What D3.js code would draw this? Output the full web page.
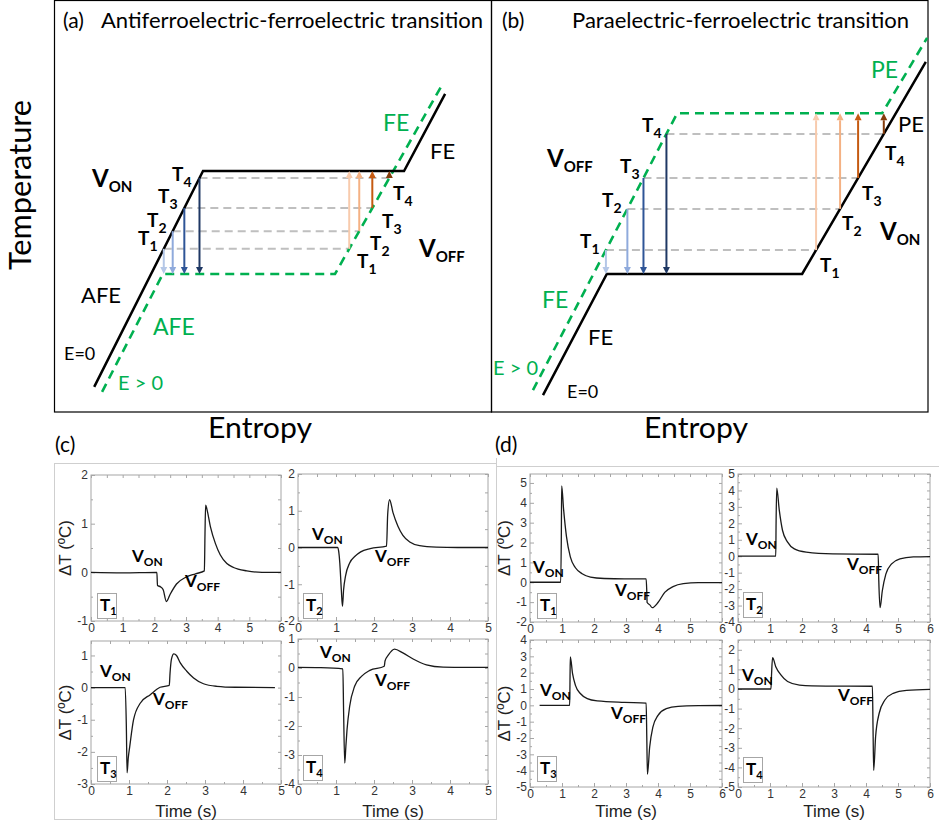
<!DOCTYPE html>
<html>
<head>
<meta charset="utf-8">
<script src="https://cdn.jsdelivr.net/npm/d3@7"></script>
<style>
  body { margin: 0; background: #fff; }
  svg { display: block; }
</style>
</head>
<body>
<svg id="fig" width="939" height="823"></svg>
<script>
// ---------- schematic (a), (b): entropy / temperature in arbitrary units (0-10) ----------
const afeBlack = [[0.92, 0.61], [3.41, 5.85], [8.01, 5.85], [8.95, 7.72]];
const afeGreen = [[1.10, 0.49], [2.49, 3.35], [6.43, 3.35], [8.88, 7.94]];
const afeLevels = [3.96, 4.39, 4.95, 5.68];   // T1..T4
const peBlack = [[1.19, 0.41], [2.65, 3.35], [7.12, 3.35], [9.95, 8.50]];
const peGreen = [[0.96, 0.53], [4.26, 7.25], [8.95, 7.25], [9.98, 9.08]];
const peLevels = [3.93, 4.93, 5.68, 6.75];
const levelNames = ["1", "2", "3", "4"];
const blueShades = ["#b4c7e7", "#8faadc", "#2f5597", "#1f3864"];
const orangeShades = ["#f8cbad", "#f4b183", "#c55a11", "#843c0c"];

// ---------- measured ΔT (°C) vs time (s) ----------
const cT1 = [[0,0],[1,-0.01],[2.08,0],[2.10,-0.27],[2.2,-0.3],[2.28,-0.36],[2.38,-0.6],[2.5,-0.45],[2.7,-0.24],[3.0,-0.1],[3.3,-0.03],[3.58,0.03],[3.60,0.8],[3.62,1.38],[3.66,1.3],[3.77,0.94],[3.93,0.59],[4.08,0.36],[4.29,0.18],[4.5,0.1],[4.92,0.03],[5.4,0],[6,0]];
const cT2 = [[0,0],[1.04,0],[1.07,-0.1],[1.10,-0.42],[1.14,-1.15],[1.17,-1.6],[1.20,-1.15],[1.25,-0.78],[1.36,-0.42],[1.5,-0.24],[1.65,-0.12],[1.9,-0.03],[2.33,0.04],[2.36,0.9],[2.41,1.3],[2.5,0.95],[2.63,0.58],[2.76,0.33],[2.94,0.15],[3.2,0.05],[3.64,0.01],[4.2,0],[5,0]];
const cT3 = [[0,0],[0.5,0],[0.90,0],[0.93,-1.2],[0.95,-2.65],[0.98,-2.2],[1.02,-1.83],[1.12,-1.0],[1.30,-0.48],[1.56,-0.22],[1.82,0.01],[2.06,0.07],[2.08,0.45],[2.12,0.9],[2.18,1.05],[2.25,1.0],[2.35,0.77],[2.52,0.51],[2.70,0.30],[2.96,0.12],[3.31,0.04],[3.8,0.01],[4.84,0]];
const cT4 = [[0,0.02],[0.6,0.01],[1.18,-0.03],[1.20,-1.5],[1.23,-3.28],[1.26,-2.7],[1.29,-2.13],[1.36,-1.32],[1.49,-0.63],[1.67,-0.29],[1.89,-0.08],[2.27,0.06],[2.29,0.24],[2.38,0.45],[2.54,0.65],[2.76,0.52],[3.03,0.31],[3.38,0.11],[3.82,0.03],[4.4,0.02],[5,0.02]];
const dT1 = [[0,0],[0.5,0],[0.96,0],[0.98,2.5],[0.99,4.85],[1.05,3.67],[1.14,2.3],[1.26,1.28],[1.42,0.73],[1.63,0.43],[1.89,0.26],[2.32,0.19],[2.95,0.17],[3.63,0.17],[3.65,-0.5],[3.66,-1.02],[3.75,-1.15],[3.82,-1.28],[4.0,-1.02],[4.21,-0.51],[4.47,-0.22],[4.79,-0.07],[5.26,-0.02],[6,-0.02]];
const dT2 = [[0,0],[0.6,0],[1.18,0],[1.19,2.0],[1.21,4.14],[1.29,2.8],[1.39,1.58],[1.55,0.86],[1.76,0.45],[2.13,0.25],[2.96,0.14],[4.38,0.12],[4.40,-1.5],[4.44,-3.13],[4.51,-2.1],[4.62,-1.09],[4.80,-0.47],[5.06,-0.16],[5.48,-0.04],[6,-0.02]];
const dT3 = [[0.3,0],[0.8,0],[1.24,0],[1.25,1.5],[1.26,2.96],[1.33,1.94],[1.42,1.22],[1.58,0.71],[1.79,0.41],[2.1,0.27],[2.95,0.18],[3.63,0.14],[3.65,-2.0],[3.67,-4.22],[3.74,-2.55],[3.84,-1.33],[4.0,-0.61],[4.26,-0.2],[4.63,-0.06],[5.26,-0.02],[6,-0.01]];
const dT4 = [[0,0],[0.5,0],[1.03,0],[1.05,0.8],[1.08,1.6],[1.18,1.14],[1.34,0.72],[1.55,0.38],[1.92,0.2],[2.75,0.15],[4.2,0.14],[4.22,-2.0],[4.24,-4.15],[4.30,-2.44],[4.41,-1.25],[4.59,-0.56],[4.85,-0.22],[5.27,-0.07],[6,-0.02]];

// axis ranges (time, ΔT) for each small plot
const cT1Dom = [[0, 6], [-1, 2]];
const cT2Dom = [[0, 5], [-2, 2]];
const cT3Dom = [[0, 5], [-3, 1.45]];
const cT4Dom = [[0, 5], [-4, 1]];
const dT1Dom = [[0, 6], [-2, 5.45]];
const dT2Dom = [[0, 6], [-4, 5]];
const dT3Dom = [[0, 6], [-5, 4]];
const dT4Dom = [[0, 6], [-5, 2.5]];

const svg = d3.select("#fig");
const LATO = "Lato, 'Open Sans', sans-serif";
const ARIAL = "'Liberation Sans', Arial, sans-serif";

// text with optional subscript
function subText(g, x, y, main, sub, o) {
  const t = g.append("text")
    .attr("x", x).attr("y", y)
    .attr("font-family", o.family || LATO)
    .attr("font-weight", o.bold ? 700 : 400)
    .attr("font-size", o.size)
    .attr("fill", o.fill || "#000");
  t.append("tspan").text(main);
  if (sub) t.append("tspan").attr("font-size", o.subSize).attr("dy", o.subDy).text(sub);
  return t;
}

// S on segment p0-p1 at temperature T
function sAt(p0, p1, T) {
  return p0[0] + (T - p0[1]) / (p1[1] - p0[1]) * (p1[0] - p0[0]);
}

function arrow(g, x, yFrom, yTo, color) {
  const dir = yTo > yFrom ? 1 : -1;
  const head = 7, half = 3.5;
  const baseY = yTo - dir * head;
  if (Math.abs(yTo - yFrom) > head) {
    g.append("line").attr("x1", x).attr("x2", x).attr("y1", yFrom).attr("y2", baseY)
      .attr("stroke", color).attr("stroke-width", 2);
  }
  g.append("path")
    .attr("d", `M${x - half},${baseY}L${x + half},${baseY}L${x},${yTo}Z`)
    .attr("fill", color);
}

// ---------- schematic panels ----------
function schematic(left, cfg) {
  const xs = d3.scaleLinear().domain([0, 10]).range([left, left + 437]);
  const ys = d3.scaleLinear().domain([0, 10]).range([412, 0]);
  const g = svg.append("g");
  const line = d3.line().x(d => xs(d[0])).y(d => ys(d[1]));

  const lp = cfg.levels.map(T => [sAt(cfg.leftLine[0], cfg.leftLine[1], T), T]);
  const rp = cfg.levels.map(T => [sAt(cfg.rightLine[2], cfg.rightLine[3], T), T]);

  // gray guide lines
  cfg.levels.forEach((T, i) => {
    g.append("line")
      .attr("x1", xs(lp[i][0])).attr("x2", xs(rp[i][0]))
      .attr("y1", ys(T)).attr("y2", ys(T))
      .attr("stroke", "#bfbfbf").attr("stroke-width", 2).attr("stroke-dasharray", "8,5");
  });

  g.append("path").attr("d", line(cfg.green)).attr("fill", "none")
    .attr("stroke", "#00b050").attr("stroke-width", 2.6).attr("stroke-dasharray", "9,6");
  g.append("path").attr("d", line(cfg.black)).attr("fill", "none")
    .attr("stroke", "#000").attr("stroke-width", 2.5);

  cfg.levels.forEach((T, i) => {
    arrow(g, xs(lp[i][0]), ys(T), ys(cfg.blueTo), blueShades[i]);
    arrow(g, xs(rp[i][0]), ys(T), ys(cfg.orangeTo), orangeShades[i]);
  });
  return g;
}

// frames
svg.append("rect").attr("x", 54.5).attr("y", 0.5).attr("width", 437).attr("height", 411.5)
  .attr("fill", "none").attr("stroke", "#000").attr("stroke-width", 1.2);
svg.append("rect").attr("x", 491.5).attr("y", 0.5).attr("width", 436.5).attr("height", 411.5)
  .attr("fill", "none").attr("stroke", "#000").attr("stroke-width", 1.2);

schematic(54, {
  black: afeBlack, green: afeGreen, levels: afeLevels,
  leftLine: afeBlack, rightLine: afeGreen,
  blueTo: afeGreen[1][1], orangeTo: afeBlack[1][1]
});
schematic(491, {
  black: peBlack, green: peGreen, levels: peLevels,
  leftLine: peGreen, rightLine: peBlack,
  blueTo: peBlack[1][1], orangeTo: peGreen[1][1]
});

// titles
svg.append("text").attr("x", 63).attr("y", 28).attr("font-family", LATO).attr("font-size", 21).text("(a)");
svg.append("text").attr("x", 101).attr("y", 28).attr("font-family", LATO).attr("font-size", 21)
  .attr("textLength", 382).attr("lengthAdjust", "spacingAndGlyphs")
  .text("Antiferroelectric-ferroelectric transition");
svg.append("text").attr("x", 502).attr("y", 28).attr("font-family", LATO).attr("font-size", 21).text("(b)");
svg.append("text").attr("x", 572).attr("y", 28).attr("font-family", LATO).attr("font-size", 21)
  .attr("textLength", 337).attr("lengthAdjust", "spacingAndGlyphs")
  .text("Paraelectric-ferroelectric transition");

svg.append("text").attr("transform", "translate(31,185) rotate(-90)").attr("text-anchor", "middle")
  .attr("font-family", LATO).attr("font-size", 30)
  .attr("textLength", 170).attr("lengthAdjust", "spacingAndGlyphs").text("Temperature");
[260, 696].forEach(cx => {
  svg.append("text").attr("x", cx).attr("y", 438).attr("text-anchor", "middle")
    .attr("font-family", LATO).attr("font-size", 29)
    .attr("textLength", 104).attr("lengthAdjust", "spacingAndGlyphs").text("Entropy");
});

// schematic annotations
const GREEN = "#00b050";
const bigV = { bold: true, size: 24, subSize: 15, subDy: 5 };
const tLab = { bold: true, size: 19, subSize: 14, subDy: 6 };
// (a)
subText(svg, 92, 187, "V", "ON", bigV);
subText(svg, 419, 257, "V", "OFF", bigV);
[[138, 245], [147, 227], [158, 203], [172, 181]].forEach((p, i) => subText(svg, p[0], p[1], "T", levelNames[i], tLab));
[[357, 268], [370, 250], [382, 228], [393, 200]].forEach((p, i) => subText(svg, p[0], p[1], "T", levelNames[i], tLab));
subText(svg, 81, 303, "AFE", null, { size: 22 });
subText(svg, 64, 360, "E=0", null, { size: 18 });
subText(svg, 153, 335, "AFE", null, { size: 23, fill: GREEN });
subText(svg, 118, 390, "E > 0", null, { size: 20, fill: GREEN });
subText(svg, 383, 131, "FE", null, { size: 23, fill: GREEN });
subText(svg, 430, 159, "FE", null, { size: 22 });
// (b)
subText(svg, 547, 167, "V", "OFF", bigV);
subText(svg, 880, 240, "V", "ON", bigV);
[[580, 248], [602, 207], [620, 173], [642, 132]].forEach((p, i) => subText(svg, p[0], p[1], "T", levelNames[i], tLab));
[[820, 272], [842, 230], [862, 200], [885, 160]].forEach((p, i) => subText(svg, p[0], p[1], "T", levelNames[i], tLab));
subText(svg, 542, 308, "FE", null, { size: 23, fill: GREEN });
subText(svg, 588, 345, "FE", null, { size: 22 });
subText(svg, 493, 375, "E > 0", null, { size: 20, fill: GREEN });
subText(svg, 567, 398, "E=0", null, { size: 18 });
subText(svg, 871, 78, "PE", null, { size: 23, fill: GREEN });
subText(svg, 898, 132, "PE", null, { size: 22 });

// ---------- bottom panels ----------
svg.append("rect").attr("x", 54.5).attr("y", 463.5).attr("width", 442).attr("height", 356)
  .attr("fill", "none").attr("stroke", "#cfcfcf");
svg.append("path").attr("d", "M496.5,458V466.5H945").attr("fill", "none").attr("stroke", "#cfcfcf");
svg.append("text").attr("x", 55).attr("y", 452).attr("font-family", LATO).attr("font-size", 21).text("(c)");
svg.append("text").attr("x", 495).attr("y", 452).attr("font-family", LATO).attr("font-size", 21).text("(d)");

const plots = [
  { data: cT1, dom: cT1Dom, name: "1", box: [91, 281, 475, 621], von: [132, 562], voff: [185, 587], tb: [97, 593], ylab: true },
  { data: cT2, dom: cT2Dom, name: "2", box: [298, 488, 474, 621], von: [312, 540], voff: [375, 562], tb: [303, 593] },
  { data: cT3, dom: cT3Dom, name: "3", box: [91, 281, 641, 784], von: [100, 677], voff: [153, 705], tb: [97, 756], ylab: true, xlab: true },
  { data: cT4, dom: cT4Dom, name: "4", box: [298, 488, 639, 784], von: [320, 658], voff: [375, 686], tb: [303, 755], xlab: true },
  { data: dT1, dom: dT1Dom, name: "1", box: [530, 722, 474, 622], von: [533, 573], voff: [615, 596], tb: [537, 593], ylab: true },
  { data: dT2, dom: dT2Dom, name: "2", box: [738, 930, 474, 622], von: [746, 545], voff: [847, 570], tb: [743, 592] },
  { data: dT3, dom: dT3Dom, name: "3", box: [530, 722, 640, 787], von: [540, 696], voff: [611, 719], tb: [537, 756], ylab: true, xlab: true },
  { data: dT4, dom: dT4Dom, name: "4", box: [738, 930, 640, 787], von: [742, 681], voff: [838, 701], tb: [743, 757], xlab: true }
];

const smallV = { bold: true, size: 17, subSize: 12, subDy: 4 };

plots.forEach(p => {
  const [x0, x1, y0, y1] = p.box;
  const x = d3.scaleLinear().domain(p.dom[0]).range([x0, x1]);
  const y = d3.scaleLinear().domain(p.dom[1]).range([y1, y0]);
  const g = svg.append("g");
  const yMajor = d3.range(Math.ceil(p.dom[1][0]), Math.floor(p.dom[1][1]) + 1);
  const yMinor = d3.range(Math.ceil(p.dom[1][0] * 2) / 2, p.dom[1][1] + 0.001, 0.5).filter(v => v % 1 !== 0);
  const xMajor = d3.range(p.dom[0][0], p.dom[0][1] + 1);
  const xMinor = d3.range(0.5, p.dom[0][1], 1);
  const fmt = d => String(d);

  const styleAxis = sel => {
    sel.select(".domain").remove();
    sel.selectAll("line").attr("stroke", "#a6a6a6");
    sel.selectAll("text").attr("font-family", ARIAL).attr("font-size", 12).attr("fill", "#333");
  };

  g.append("g").attr("transform", `translate(${x0},0)`)
    .call(d3.axisLeft(y).tickValues(yMajor).tickFormat(fmt).tickSizeInner(-4).tickSizeOuter(0).tickPadding(3)).call(styleAxis);
  g.append("g").attr("transform", `translate(${x0},0)`)
    .call(d3.axisLeft(y).tickValues(yMinor).tickFormat("").tickSizeInner(-2).tickSizeOuter(0)).call(styleAxis);
  g.append("g").attr("transform", `translate(${x1},0)`)
    .call(d3.axisRight(y).tickValues(yMajor.concat(yMinor)).tickFormat("").tickSizeInner(-3).tickSizeOuter(0)).call(styleAxis);
  g.append("g").attr("transform", `translate(0,${y1})`)
    .call(d3.axisBottom(x).tickValues(xMajor).tickFormat(fmt).tickSizeInner(-4).tickSizeOuter(0).tickPadding(2)).call(styleAxis);
  g.append("g").attr("transform", `translate(0,${y1})`)
    .call(d3.axisBottom(x).tickValues(xMinor).tickFormat("").tickSizeInner(-2).tickSizeOuter(0)).call(styleAxis);
  g.append("g").attr("transform", `translate(0,${y0})`)
    .call(d3.axisTop(x).tickValues(xMajor.concat(xMinor)).tickFormat("").tickSizeInner(-3).tickSizeOuter(0)).call(styleAxis);

  g.append("rect").attr("x", x0).attr("y", y0).attr("width", x1 - x0).attr("height", y1 - y0)
    .attr("fill", "none").attr("stroke", "#a6a6a6").attr("stroke-width", 1);

  g.append("path").datum(p.data)
    .attr("d", d3.line().x(d => x(d[0])).y(d => y(d[1])).curve(d3.curveMonotoneX))
    .attr("fill", "none").attr("stroke", "#1a1a1a").attr("stroke-width", 1.3);

  subText(g, p.von[0], p.von[1], "V", "ON", smallV);
  subText(g, p.voff[0], p.voff[1], "V", "OFF", smallV);
  g.append("rect").attr("x", p.tb[0] + 0.5).attr("y", p.tb[1] + 0.5).attr("width", 19).attr("height", 25)
    .attr("fill", "#fff").attr("stroke", "#a6a6a6");
  subText(g, p.tb[0] + 3, p.tb[1] + 18, "T", p.name, { bold: true, size: 17, subSize: 11, subDy: 4 });

  if (p.ylab) {
    g.append("text").attr("transform", `translate(${x0 - 20},${(y0 + y1) / 2}) rotate(-90)`)
      .attr("text-anchor", "middle").attr("font-family", ARIAL).attr("font-size", 17).attr("fill", "#222")
      .text("ΔT (ºC)");
  }
  if (p.xlab) {
    g.append("text").attr("x", (x0 + x1) / 2).attr("y", 817).attr("text-anchor", "middle")
      .attr("font-family", ARIAL).attr("font-size", 17).attr("fill", "#222").text("Time (s)");
  }
});
</script>
</body>
</html>
